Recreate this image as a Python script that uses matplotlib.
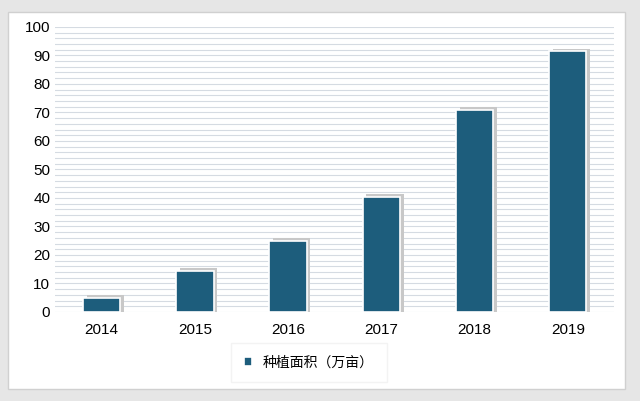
import matplotlib.pyplot as plt
from matplotlib.patches import Rectangle

plt.rcParams['font.family'] = ['Liberation Sans', 'Noto Sans CJK SC', 'DejaVu Sans']

years = ['2014', '2015', '2016', '2017', '2018', '2019']
area = [5, 14.5, 25, 40.5, 71, 91.5]
label = '种植面积（万亩）'

fig = plt.figure(figsize=(6.4, 4.01), dpi=100)
fig.patch.set_facecolor('#e6e6e6')
fig.add_artist(Rectangle((0.012, 0.03), 0.965, 0.94, transform=fig.transFigure,
                         facecolor='white', edgecolor='#d0d0d0', zorder=0))
ax = fig.add_axes([0.086, 0.222, 0.874, 0.711])
ax.set_facecolor('white')

x = range(len(years))
# shadow
ax.bar([i + 0.04 for i in x], [v + 0.8 for v in area], width=0.4, color='#c8c8c8', zorder=2)
ax.bar(x, area, width=0.4, color='#1d5d7c', edgecolor='white', linewidth=1.2, zorder=3, label=label)

ax.set_ylim(0, 100)
ax.set_xlim(-0.5, 5.5)
ax.set_yticks(range(0, 101, 10))
ax.set_yticks(range(0, 101, 2), minor=True)
ax.grid(axis='y', which='both', color='#d5dbe2', linewidth=0.8, zorder=0)
ax.tick_params(which='both', length=0, labelsize=11)
ax.tick_params(axis='x', pad=8)
ax.set_xticks(list(x))
ax.set_xticklabels(years)
for s in ax.spines.values():
    s.set_visible(False)

leg = ax.legend(loc='upper left', bbox_to_anchor=(0.31, -0.1), frameon=True,
                prop={'family': ['Noto Sans CJK SC'], 'size': 10},
                handlelength=0.6, handleheight=0.6, borderpad=0.6)
leg.get_frame().set_edgecolor('#f0f0f0')
leg.get_frame().set_boxstyle('square')

fig.savefig('out.png', dpi=100, facecolor=fig.get_facecolor())
